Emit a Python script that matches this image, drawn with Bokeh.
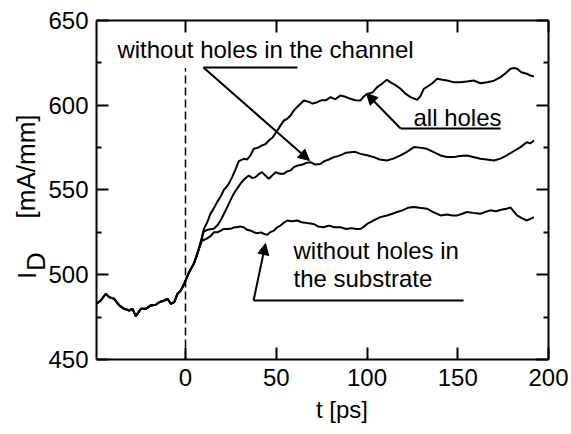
from bokeh.plotting import figure
from bokeh.models import (Range1d, LinearAxis, FixedTicker, Label, Arrow, NormalHead)
from bokeh.embed import file_html
from bokeh.resources import INLINE

# ---------------- data ----------------
# shared trace before the pulse (all three simulations coincide)
t_shared = [-49, -46.7, -43.9, -42.1, -39.3, -36.5, -33.8, -31, -29.2, -27.4,
            -24.6, -21.9, -19.1, -16.4, -14.5, -11.7, -9.9, -8.1, -6.2, -4.4,
            -2.6, -0.7, 2, 4.8, 7]
i_shared = [482.9, 484.8, 488.8, 486.8, 485.8, 481.9, 479.9, 478.9, 479.9, 475.6,
            479.9, 479.9, 481.9, 482.3, 483.8, 484.8, 485.8, 482.9, 483.8, 488.8,
            490.7, 494.7, 501.5, 507, 514]

# "all holes"
t_all = [9, 10.1, 12, 13.8, 15.5, 17.5, 19.3, 21.1, 23.5, 25.7, 27.5, 29.4, 32.1, 34,
         35.8, 37.6, 40, 42.2, 44, 45.9, 48, 50.5, 52.3, 54.2, 56, 57.9, 59.7, 62.5,
         65.2, 68, 70, 72.6, 75, 77.5, 79.9, 82.5, 85.4, 88, 90.9, 93.5, 96.4, 98,
         100.1, 103, 105.6, 108, 111, 113, 115.5, 118.5, 121, 124, 127.7, 129.5,
         131.3, 134, 136, 138.7, 141.5, 144.2, 148, 151.5, 155, 158.8, 162.5, 166.2,
         170, 173.6, 176.5, 179, 181, 182.7, 185, 188, 190, 192]
i_all = [522, 527, 531, 536, 539, 543, 546, 550, 553, 557.6, 562, 567, 568.4, 568,
         570.4, 574.3, 575, 576.3, 577, 579.2, 581, 585, 588, 591, 592, 594, 597, 600,
         602.8, 602, 601, 601.8, 603, 603, 604.8, 603.5, 605.8, 605, 603.8, 603, 602.8,
         605, 606.7, 607.5, 610.7, 612.5, 615, 613.5, 612, 609.7, 607, 604.8, 603.2,
         605.5, 609.7, 611.5, 613, 615.6, 615, 614.6, 613.5, 613.6, 614, 614.6, 613,
         613.6, 614.5, 616.6, 619, 621.5, 622, 621.5, 619.5, 618.6, 617.5, 617]

# "without holes in the channel"
t_chan = [9, 10, 12, 15.6, 17.5, 19.3, 21, 23, 24.8, 26.6, 28.5, 30.3, 32.5, 34.9,
          36.8, 38.6, 40.5, 42.2, 44, 45.9, 47.7, 49.6, 52, 54.2, 56, 57.9, 59.7, 62,
          64.5, 66.5, 68.9, 71.5, 74.4, 76.5, 79, 81.7, 84, 86.5, 88.5, 90.9, 93.5,
          96.4, 100, 103.7, 107, 111, 114.5, 118.5, 122, 125.8, 129, 133, 136.5,
          140.5, 144, 147.8, 151, 155, 158.5, 162.5, 166, 170, 173.5, 177, 181, 184.6,
          188, 190, 192]
i_chan = [521, 525.5, 526.5, 527.1, 529, 532, 535.5, 539.9, 544, 547.8, 551, 553.7,
          556.5, 558.6, 557, 557.6, 559.5, 560.5, 558.5, 556.6, 558.5, 560.5, 559.6,
          559.6, 561, 561.5, 563.5, 564.5, 565, 566, 566.4, 565, 565.4, 567, 568, 569.4,
          570, 571, 572, 572.3, 572.5, 571.3, 570.5, 569.4, 568, 567.4, 568.5, 570.4,
          572.5, 575.3, 575, 574.3, 572.5, 570.4, 569.5, 569.4, 570, 570.4, 569.5,
          568.4, 568, 567.4, 568.5, 570.4, 573, 575.3, 578.2, 577.5, 579.2]

# "without holes in the substrate"
t_sub = [9, 10, 12, 14, 15.6, 17.5, 19.5, 21.1, 23, 24.8, 27, 28.5, 30, 32.1, 34, 36,
         37.6, 39.5, 41.5, 43.1, 45, 46.5, 48.7, 50.5, 52.3, 54, 56, 58.5, 61.5, 64,
         67, 70.5, 73, 76, 79, 82, 85.4, 88.5, 91.5, 94, 96.4, 98.5, 100, 103.5,
         107.4, 111, 114, 116.6, 119.5, 122.5, 125.7, 129, 133, 136.5, 140.5, 144,
         147, 149.7, 152.5, 155, 158.5, 162.5, 165, 168, 171, 174.5, 177, 179, 180.7,
         182.7, 185, 188, 190, 192]
i_sub = [520, 520.5, 521.5, 523, 525, 525.1, 526, 527, 527, 527.1, 528, 528, 528.5,
         528, 526.5, 526, 525.1, 524.5, 525, 524.2, 523.5, 525, 526, 528, 529, 530.5,
         532, 531.5, 532, 531, 530.5, 530, 528.5, 528, 529, 528, 528, 527, 527.5, 527,
         527, 528.5, 530, 532, 534, 535, 536, 537, 538, 539.5, 540, 539.5, 539, 537,
         535, 535.5, 535, 535, 536, 537, 536.5, 536, 537, 538, 537.5, 538.5, 539,
         539.7, 537.5, 535, 533.5, 532, 533, 534]

x_lim = (-49, 200)
y_lim = (450, 650)
x_ticks = [0, 50, 100, 150, 200]
y_ticks = [450, 500, 550, 600, 650]
y_minor = [475, 525, 575, 625]

label_channel = "without holes in the channel"
label_all = "all holes"
label_sub_1 = "without holes in"
label_sub_2 = "the substrate"
x_title = "t [ps]"
y_title_main = "I"
y_title_sub = "D"
y_title_unit = "[mA/mm]"

# ---------------- figure ----------------
FONT = "Liberation Sans"

# The frame covers the whole canvas; the visible box is drawn by four
# axes pinned (fixed_location) to the data limits, so titles can sit outside it.
p = figure(frame_width=570, frame_height=433,
           min_border_left=0, min_border_right=0,
           min_border_top=0, min_border_bottom=0,
           x_range=Range1d(-101.93, 212.12), y_range=Range1d(406.34, 661.80),
           output_backend="svg", toolbar_location=None,
           x_axis_location=None, y_axis_location=None)
p.grid.visible = False
p.outline_line_color = None
p.background_fill_color = "white"
p.border_fill_color = "white"


def make_axis(loc, bounds, ticks, minor, show_labels):
    ax = LinearAxis(fixed_location=loc, bounds=bounds)
    ax.ticker = FixedTicker(ticks=ticks, minor_ticks=minor)
    ax.axis_line_color = "black"
    ax.axis_line_width = 2
    ax.major_tick_line_color = "black"
    ax.major_tick_line_width = 2
    ax.major_tick_in = 12
    ax.major_tick_out = 0
    ax.minor_tick_line_color = "black"
    ax.minor_tick_line_width = 2
    ax.minor_tick_in = 5
    ax.minor_tick_out = 0
    if show_labels:
        ax.major_label_text_font = FONT
        ax.major_label_text_font_size = "24px"
        ax.major_label_text_color = "black"
    else:
        ax.major_label_text_color = None
    return ax


xb = make_axis(y_lim[0], x_lim, x_ticks, [], True)
xb.major_label_standoff = 10
p.add_layout(xb, "below")

xt = make_axis(y_lim[1], x_lim, x_ticks, [], False)
p.add_layout(xt, "above")

yl = make_axis(x_lim[0], y_lim, y_ticks, y_minor, True)
yl.major_label_standoff = 8
p.add_layout(yl, "left")

yr = make_axis(x_lim[1], y_lim, y_ticks, y_minor, False)
p.add_layout(yr, "right")

# ---------------- curves ----------------
for tt, ii in [(t_all, i_all), (t_chan, i_chan), (t_sub, i_sub)]:
    p.line(t_shared + tt, i_shared + ii, line_color="black", line_width=2)

# dashed line at t = 0
p.segment(x0=[0], y0=[y_lim[0]], x1=[0], y1=[622], line_color="black",
          line_width=1.5, line_dash="8 4")

# ---------------- annotations ----------------
def text(x, y, s, size="24px", angle=0.0, align="left"):
    p.add_layout(Label(x=x, y=y, text=s, text_font=FONT, text_font_size=size,
                       text_color="black", text_baseline="alphabetic",
                       text_align=align, angle=angle))


text(-37.5, 633.0, label_channel)
text(125.6, 592.8, label_all)
text(59.5, 514.3, label_sub_1)
text(59.5, 497.8, label_sub_2)

# leader lines (underlines) and arrows
p.line([9.9, 61.7], [622.3, 622.3], line_color="black", line_width=2)
p.line([118.5, 173.6], [586.3, 586.3], line_color="black", line_width=2)
p.line([37.5, 153.2], [484.8, 484.8], line_color="black", line_width=2)


def arrow(x0, y0, x1, y1):
    p.add_layout(Arrow(end=NormalHead(size=11, fill_color="black", line_color="black"),
                       x_start=x0, y_start=y0, x_end=x1, y_end=y1,
                       line_color="black", line_width=2))


arrow(9.9, 622.3, 68.3, 567.4)
arrow(118.5, 586.3, 99.7, 606.9)
arrow(37.5, 484.8, 44.1, 518.4)

# axis titles
text(86.2, 420.5, x_title, size="24px", align="center")
text(-87.6, 497.5, y_title_main, size="26px", angle=1.5708)
text(-82.1, 502.2, y_title_sub, size="26px", angle=1.5708)
text(-88.0, 533.2, y_title_unit, size="26px", angle=1.5708)

open("out.html", "w").write(file_html(p, INLINE))
